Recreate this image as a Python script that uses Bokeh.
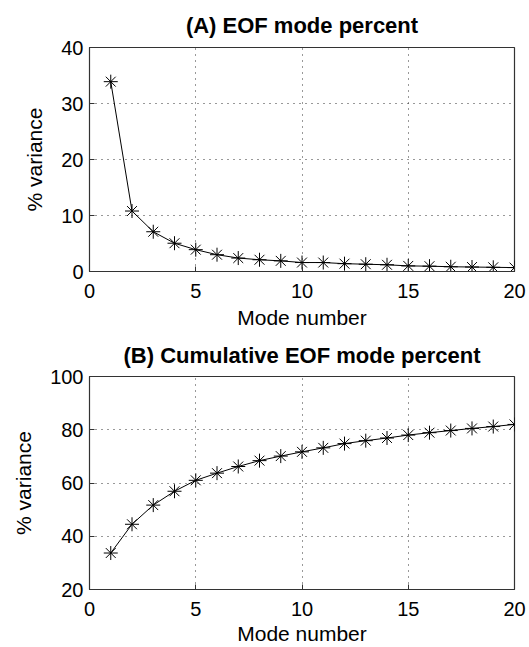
from bokeh.plotting import figure
from bokeh.layouts import column
from bokeh.models import Range1d, FixedTicker
from bokeh.embed import file_html
from bokeh.resources import INLINE

modes = list(range(1, 21))
pct = [33.9, 10.8, 7.1, 5.05, 3.9, 3.0, 2.4, 2.1, 1.9, 1.6,
       1.6, 1.4, 1.3, 1.2, 1.0, 0.95, 0.85, 0.8, 0.75, 0.7]
cum = [33.7, 44.5, 51.7, 56.9, 61.0, 63.7, 66.2, 68.4, 70.1, 71.7,
       73.2, 74.8, 75.9, 76.9, 78.0, 78.9, 79.7, 80.5, 81.2, 82.0]
x_ticks = [0, 5, 10, 15, 20]
yA_ticks = [0, 10, 20, 30, 40]
yB_ticks = [20, 40, 60, 80, 100]
FONT = "Liberation Sans"


def make(title, y, yr, yticks, top, bottom, h, xlab_standoff, t_standoff):
    p = figure(width=529, height=h, output_backend="svg", toolbar_location=None,
               x_range=Range1d(0, 20), y_range=Range1d(*yr),
               min_border_left=89, min_border_right=15,
               min_border_top=top, min_border_bottom=bottom)
    p.title.text = title
    p.title.align = "center"
    p.title.text_font = FONT
    p.title.text_font_size = "22px"
    p.title.text_font_style = "bold"
    p.title.text_color = "black"
    p.title.offset = 0
    p.title.standoff = t_standoff
    p.outline_line_color = "#333333"
    p.outline_line_width = 1.2
    p.background_fill_color = "white"
    p.border_fill_color = "white"
    for ax in (p.xaxis[0], p.yaxis[0]):
        ax.major_label_text_font = FONT
        ax.major_label_text_font_size = "20px"
        ax.major_label_text_color = "black"
        ax.axis_label_text_font = FONT
        ax.axis_label_text_font_size = "21px"
        ax.axis_label_text_font_style = "normal"
        ax.axis_label_text_color = "black"
        ax.axis_line_color = "#333333"
        ax.major_tick_in = 5
        ax.major_tick_out = 0
        ax.minor_tick_line_color = None
        ax.major_tick_line_color = "#333333"
    p.xaxis.ticker = FixedTicker(ticks=x_ticks)
    p.yaxis.ticker = FixedTicker(ticks=yticks)
    p.xaxis.axis_label = "Mode number"
    p.yaxis.axis_label = "% variance"
    p.xaxis.major_label_standoff = 12
    p.xaxis.axis_label_standoff = xlab_standoff
    p.yaxis.major_label_standoff = 6
    p.yaxis.axis_label_standoff = 12
    for g in (p.xgrid[0], p.ygrid[0]):
        g.grid_line_color = "#333333"
        g.grid_line_dash = "1 5"
        g.grid_line_width = 1
    p.line(modes, y, line_color="black", line_width=1)
    p.scatter(modes, y, marker="asterisk", size=14, line_color="black", line_width=1)
    return p


pA = make("(A) EOF mode percent", pct, (0, 40), yA_ticks, 47, 60, 331, 5, 19)
pB = make("(B) Cumulative EOF mode percent", cum, (20, 100), yB_ticks, 45, 55, 316, 3, 18)

layout = column(pA, pB, spacing=0)
open("out.html", "w").write(file_html(layout, INLINE))
